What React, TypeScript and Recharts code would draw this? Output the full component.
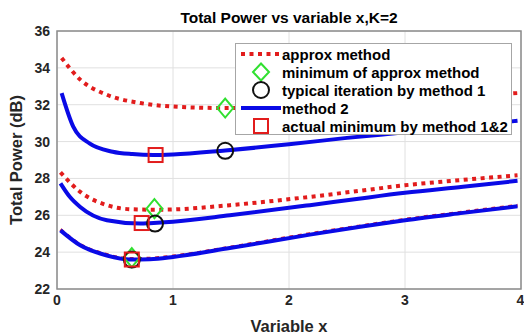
import {
  ComposedChart, Line, Scatter, XAxis, YAxis, CartesianGrid, ReferenceArea, Label,
} from 'recharts';

// values (x, total power in dB)
const approxTopX = [0.04, 0.2, 0.43, 0.72, 1.0, 1.45, 2.0, 2.5, 3.0, 3.5, 3.97];
const approxTopY = [34.54, 33.36, 32.54, 32.09, 31.9, 31.82, 31.95, 32.1, 32.27, 32.45, 32.63];

const method2TopX = [0.04, 0.14, 0.28, 0.48, 0.65, 0.83, 1.0, 1.45, 2.0, 2.5, 3.0, 3.5, 3.97];
const method2TopY = [32.63, 30.81, 29.9, 29.45, 29.32, 29.27, 29.3, 29.52, 29.85, 30.2, 30.5, 30.82, 31.13];

const approxMidX = [0.03, 0.2, 0.43, 0.63, 0.85, 0.97, 1.49, 2.18, 2.6, 3.0, 3.5, 3.97];
const approxMidY = [28.33, 27.27, 26.55, 26.33, 26.3, 26.31, 26.55, 27.0, 27.32, 27.63, 27.92, 28.17];

const method2MidX = [0.03, 0.11, 0.2, 0.43, 0.72, 0.8, 1.0, 1.49, 2.18, 2.6, 3.0, 3.5, 3.97];
const method2MidY = [27.73, 27.0, 26.45, 25.73, 25.55, 25.57, 25.65, 26.0, 26.55, 26.9, 27.22, 27.55, 27.87];

const method2LowX = [0.03, 0.2, 0.43, 0.63, 0.8, 1.0, 1.49, 2.18, 2.6, 3.0, 3.5, 3.97];
const method2LowY = [25.18, 24.37, 23.82, 23.6, 23.62, 23.74, 24.22, 24.95, 25.36, 25.73, 26.13, 26.49];
const approxLowY = [25.23, 24.42, 23.87, 23.65, 23.67, 23.79, 24.27, 25.0, 25.41, 25.78, 26.18, 26.54];

const diamondX = [1.45, 0.84, 0.645];
const diamondY = [31.82, 26.36, 23.7];
const circleX = [1.45, 0.845, 0.645];
const circleY = [29.5, 25.55, 23.6];
const squareX = [0.85, 0.73, 0.645];
const squareY = [29.27, 25.58, 23.6];

const xTicks = [0, 1, 2, 3, 4];
const yTicks = [22, 24, 26, 28, 30, 32, 34, 36];

const legendItems = [
  'approx method',
  'minimum of approx method',
  'typical iteration by method 1',
  'method 2',
  'actual minimum by method 1&2',
];

const zip = (xs: number[], ys: number[]) => xs.map((x, i) => ({ x, y: ys[i] }));

const RED = '#e21c1c';
const BLUE = '#0a0ae6';
const GREEN = '#30e030';
const FONT = '"Liberation Sans", Arial, sans-serif';

const diamond = (props: any) => {
  const { cx, cy } = props;
  return <path d={`M${cx},${cy - 9.5}L${cx + 8},${cy}L${cx},${cy + 9.5}L${cx - 8},${cy}Z`} fill="none" stroke={GREEN} strokeWidth={2} />;
};
const circle = (props: any) => <circle cx={props.cx} cy={props.cy} r={8} fill="none" stroke="#111" strokeWidth={2} />;
const square = (props: any) => (
  <rect x={props.cx - 7} y={props.cy - 7} width={14} height={14} fill="none" stroke={RED} strokeWidth={2} />
);

const YTitle = (props: any) => {
  const vb = props.viewBox || {};
  const cy = vb.height ? vb.y + vb.height / 2 : 160;
  return (
    <text x={22} y={cy} transform={`rotate(-90, 22, ${cy})`} textAnchor="middle"
      fontFamily={FONT} fontWeight="bold" fontSize={16.5} fill="#262626">
      Total Power (dB)
    </text>
  );
};

function LegendBox() {
  const symbols = [
    <line x1={5} y1={9} x2={45} y2={9} stroke={RED} strokeWidth={4} strokeDasharray="4 4.5" />,
    <path d="M25,0.5L33,9L25,17.5L17,9Z" fill="none" stroke={GREEN} strokeWidth={2} />,
    <circle cx={25} cy={9} r={8} fill="none" stroke="#111" strokeWidth={2} />,
    <line x1={5} y1={9} x2={45} y2={9} stroke={BLUE} strokeWidth={4} />,
    <rect x={18} y={2} width={14} height={14} fill="none" stroke={RED} strokeWidth={2} />,
  ];
  return (
    <div style={{
      position: 'absolute', left: 235, top: 43, width: 275, height: 89, paddingTop: 1,
      border: '1px solid #a6a6a6', background: '#fff', fontFamily: FONT,
    }}>
      {legendItems.map((t, i) => (
        <div key={t} style={{ display: 'flex', alignItems: 'center', height: 18 }}>
          <svg width={45} height={18} style={{ flex: 'none', overflow: 'visible' }}>{symbols[i]}</svg>
          <span style={{ fontSize: 15, fontWeight: 'bold', color: '#000', marginLeft: 1, whiteSpace: 'nowrap' }}>{t}</span>
        </div>
      ))}
    </div>
  );
}

export default function App() {
  const tickStyle = { fontSize: 14, fontWeight: 'bold', fill: '#262626', fontFamily: FONT };
  return (
    <div style={{ position: 'absolute', left: 0, top: 0, width: 524, height: 334, background: '#fff' }}>
      <div style={{
        position: 'absolute', left: 57, top: 9, width: 464, textAlign: 'center', lineHeight: '18px',
        fontFamily: FONT, fontWeight: 'bold', fontSize: 15.5, color: '#000',
      }}>
        Total Power vs variable x,K=2
      </div>
      <ComposedChart width={524} height={334} margin={{ top: 31, right: 3, bottom: 0, left: 0 }}>
        <CartesianGrid stroke="#e0e0e0" horizontalValues={yTicks} verticalValues={xTicks} />
        <XAxis
          type="number" dataKey="x" domain={[0, 4]} ticks={xTicks} allowDataOverflow
          height={45} tick={tickStyle} tickLine={false} axisLine={false} tickMargin={0}
        >
          <Label value="Variable x" position="insideBottom" offset={2}
            style={{ fontSize: 16.5, fontWeight: 'bold', fill: '#262626', fontFamily: FONT }} />
        </XAxis>
        <YAxis
          type="number" dataKey="y" domain={[22, 36]} ticks={yTicks} allowDataOverflow
          width={57} tick={tickStyle} tickLine={false} axisLine={false} tickMargin={1}
        >
          <Label content={YTitle} />
        </YAxis>
        <ReferenceArea x1={0} x2={4} y1={22} y2={36} fill="none" stroke="#8c8c8c" strokeWidth={1.5} />

        <Line data={zip(approxTopX, approxTopY)} dataKey="y" type="monotone" stroke={RED} strokeWidth={4}
          strokeDasharray="4 4.5" dot={false} isAnimationActive={false} />
        <Line data={zip(method2TopX, method2TopY)} dataKey="y" type="monotone" stroke={BLUE} strokeWidth={4}
          dot={false} isAnimationActive={false} />
        <Line data={zip(approxMidX, approxMidY)} dataKey="y" type="monotone" stroke={RED} strokeWidth={4}
          strokeDasharray="4 4.5" dot={false} isAnimationActive={false} />
        <Line data={zip(method2MidX, method2MidY)} dataKey="y" type="monotone" stroke={BLUE} strokeWidth={4}
          dot={false} isAnimationActive={false} />
        <Line data={zip(method2LowX, approxLowY)} dataKey="y" type="monotone" stroke={RED} strokeWidth={3}
          strokeDasharray="4 4.5" dot={false} isAnimationActive={false} />
        <Line data={zip(method2LowX, method2LowY)} dataKey="y" type="monotone" stroke={BLUE} strokeWidth={4}
          dot={false} isAnimationActive={false} />

        <Scatter data={zip(diamondX, diamondY)} dataKey="y" shape={diamond} isAnimationActive={false} />
        <Scatter data={zip(circleX, circleY)} dataKey="y" shape={circle} isAnimationActive={false} />
        <Scatter data={zip(squareX, squareY)} dataKey="y" shape={square} isAnimationActive={false} />
      </ComposedChart>
      <LegendBox />
    </div>
  );
}
